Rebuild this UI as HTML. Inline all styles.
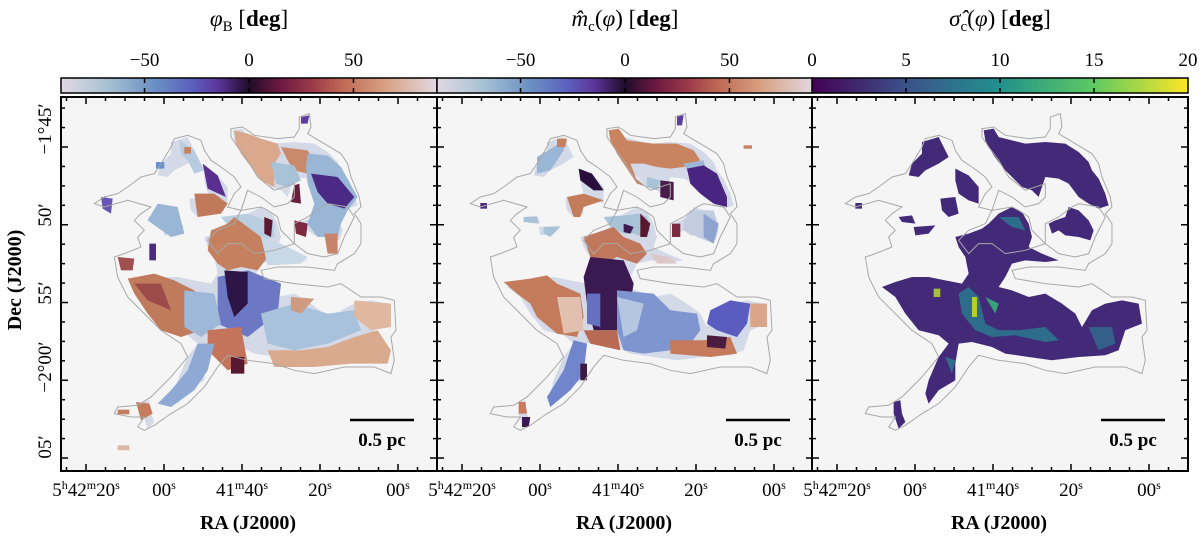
<!DOCTYPE html>
<html><head><meta charset="utf-8">
<style>
html,body{margin:0;padding:0;background:#fff;width:1200px;height:536px;overflow:hidden}
svg text{font-family:"Liberation Serif",serif;fill:#000}
</style></head>
<body>
<svg id="fig" width="1200" height="536" viewBox="0 0 1200 536" xmlns="http://www.w3.org/2000/svg">
<defs>
<linearGradient id="twi" x1="0" x2="1" y1="0" y2="0">
<stop offset="0" stop-color="#e2d9e2"/><stop offset="0.12" stop-color="#a9c2d4"/><stop offset="0.25" stop-color="#6a8fc4"/><stop offset="0.35" stop-color="#5b5fbe"/><stop offset="0.42" stop-color="#5b3497"/><stop offset="0.5" stop-color="#1f0c29"/><stop offset="0.58" stop-color="#6b1840"/><stop offset="0.67" stop-color="#9d3a4a"/><stop offset="0.75" stop-color="#c06a55"/><stop offset="0.86" stop-color="#d7a080"/><stop offset="1" stop-color="#e2d9e2"/>
</linearGradient>
<linearGradient id="vir" x1="0" x2="1" y1="0" y2="0">
<stop offset="0" stop-color="#440154"/><stop offset="0.25" stop-color="#3b528b"/><stop offset="0.5" stop-color="#21918c"/><stop offset="0.75" stop-color="#5ec962"/><stop offset="1" stop-color="#fde725"/>
</linearGradient>
</defs>
</svg>
<script>
// ---- data arrays ----
const cbarTicks12 = [-50, 0, 50];
const cbarRange12 = [-90, 90];
const cbarTicks3 = [0, 5, 10, 15, 20];
const cbarRange3 = [0, 20];
const raMajor = [0, 1, 2, 3, 4];
const raLabels = [["5","h","42","m","20","s"],["00","s"],["41","m","40","s"],["20","s"],["00","s"]];
const decMajor = [0, 1, 2, 3, 4];
const decLabels = ["\u22121\u00b045\u2032","50\u2032","55\u2032","\u22122\u00b000\u2032","05\u2032"];
const titles = ["\u03c6", "m\u0302", "\u03c3\u0302"];

const NS = "http://www.w3.org/2000/svg";
const svg = document.getElementById("fig");
function el(tag, attrs, parent){const e=document.createElementNS(NS,tag);for(const k in attrs)e.setAttribute(k,attrs[k]);(parent||svg).appendChild(e);return e;}

const PX = [61, 437, 812], PW = 376, TOP = 97, BOT = 471;
const raX = i => 25 + i*78;

const outline = [[510,95],[545,90],[580,115],[650,125],[700,120],[715,95],[715,60],[745,50],[750,90],[740,110],[790,140],[840,170],[860,200],[870,240],[895,300],[900,330],[880,350],[900,380],[900,440],[880,470],[830,500],[820,520],[740,510],[650,510],[600,520],[610,545],[700,560],[800,570],[840,560],[900,600],[960,600],[1000,610],[1005,700],[990,720],[1000,790],[990,830],[940,810],[850,810],[760,830],[700,820],[640,800],[560,790],[500,775],[470,810],[430,870],[380,920],[330,950],[280,985],[250,1000],[230,990],[250,960],[210,960],[160,950],[170,930],[230,925],[270,900],[330,840],[380,780],[360,740],[300,700],[250,650],[200,600],[170,540],[160,480],[190,470],[240,450],[230,420],[250,400],[220,370],[240,350],[270,330],[200,310],[130,330],[100,320],[130,300],[170,290],[200,270],[240,240],[280,230],[300,200],[330,150],[340,125],[380,115],[420,130],[430,160],[450,190],[480,210],[520,240],[540,270],[520,290],[500,330],[540,340],[600,330],[620,340],[650,360],[660,400],[680,420],[700,440],[640,460],[580,470],[540,440],[500,440],[470,470],[440,430],[470,400],[520,380],[540,340],[560,280],[600,300],[640,330],[680,320],[700,300],[700,260],[640,280],[590,240],[560,190],[530,150],[510,120]];
const outline2 = [[700,380],[740,360],[780,330],[800,320],[860,330],[880,360],[850,420],[830,470],[790,480],[740,470],[700,440]];

const mask3 = [
 [[515,100],[545,95],[560,120],[600,130],[640,140],[700,135],[760,140],[800,165],[830,195],[840,220],[860,245],[880,290],[890,325],[860,335],[830,320],[800,300],[770,260],[740,245],[700,240],[680,300],[660,280],[630,270],[600,240],[575,215],[545,175],[520,130]],
 [[770,330],[800,340],[830,370],[845,400],[835,430],[800,420],[760,415],[740,400],[720,410],[710,380],[730,370],[760,360]],
 [[430,420],[470,410],[510,395],[530,380],[560,350],[600,330],[630,345],[650,380],[660,420],[650,450],[690,470],[740,490],[700,495],[640,490],[600,500],[580,540],[560,570],[600,580],[650,600],[700,590],[750,620],[790,650],[810,690],[840,640],[880,620],[930,610],[980,620],[990,680],[940,700],[920,760],[880,775],[800,780],[720,790],[650,780],[580,770],[540,750],[480,735],[440,740],[430,800],[430,850],[380,880],[350,920],[340,890],[350,850],[380,780],[410,740],[380,715],[320,700],[280,650],[250,600],[210,570],[250,555],[300,540],[350,540],[400,550],[450,560],[470,530],[460,480],[440,450]],
 [[330,135],[380,120],[395,150],[410,180],[380,200],[340,220],[320,240],[290,235],[300,200],[330,170]],
 [[430,215],[470,235],[500,270],[500,320],[470,310],[440,290],[430,250]],
 [[385,305],[430,300],[440,350],[410,360],[390,340]],
 [[305,390],[370,385],[350,410],[310,415]],
 [[260,360],[300,355],[310,380],[270,375]],
 [[245,915],[265,910],[270,950],[280,975],[260,995],[245,950]],
 [[130,318],[150,318],[150,335],[130,335]]
];
const streaks3 = [
 [[[440,590],[470,570],[500,600],[520,680],[560,700],[620,700],[700,690],[740,730],[700,735],[610,715],[540,720],[490,700],[450,650]],"#2a788e"],
 [[[480,600],[495,600],[495,660],[480,660]],"#cde11d"],
 [[[365,575],[385,575],[385,600],[365,600]],"#b5de2b"],
 [[[560,360],[620,360],[640,400],[600,390]],"#2a788e"],
 [[[830,690],[900,690],[910,740],[860,760]],"#31688e"],
 [[[520,600],[560,620],[550,650]],"#35b779"],
 [[[400,780],[430,790],[420,830]],"#2a788e"]
];

const patches1 = [
 [[[520,100],[560,110],[600,125],[650,140],[660,170],[640,200],[640,270],[600,250],[570,210],[540,170],[525,140]],"#d9a88d"],
 [[[660,150],[740,160],[760,190],[740,230],[700,220],[680,190]],"#c98a6b"],
 [[[630,195],[700,205],[720,250],[680,270],[645,260]],"#a8c3d8"],
 [[[740,170],[800,175],[840,210],[890,300],[860,340],[840,380],[830,420],[770,420],[740,380],[760,320],[740,260],[735,210]],"#9ab6d6"],
 [[[750,230],[830,240],[880,300],[850,335],[800,320],[770,285]],"#4b2a86"],
 [[[700,265],[715,260],[720,320],[690,315]],"#6b1e3e"],
 [[[700,370],[740,380],[735,420],[705,410]],"#7c2a40"],
 [[[790,410],[830,410],[830,470],[800,470]],"#c8846a"],
 [[[480,360],[560,350],[640,380],[640,420],[600,430],[520,410]],"#b8cde0"],
 [[[610,360],[635,370],[630,420],[610,410]],"#5a1830"],
 [[[450,400],[500,380],[520,360],[560,390],[600,420],[620,480],[590,520],[540,510],[500,520],[470,500],[440,460]],"#c5805f"],
 [[[600,420],[660,440],[740,480],[720,500],[620,505]],"#c9d8e6"],
 [[[470,540],[560,520],[660,560],[650,650],[560,720],[470,680]],"#6d78c4"],
 [[[490,520],[560,525],[560,620],[520,660],[500,600]],"#2e1548"],
 [[[200,545],[280,530],[340,550],[400,580],[430,620],[420,700],[360,720],[300,700],[260,650],[220,590]],"#c07a5c"],
 [[[220,560],[300,560],[330,640],[260,610]],"#9c4a4a"],
 [[[370,580],[460,590],[480,680],[420,720],[370,690]],"#9db8d8"],
 [[[440,700],[540,690],[560,800],[500,820],[440,760]],"#c4745a"],
 [[[410,740],[460,740],[440,820],[400,880],[330,930],[290,920],[330,880],[380,820]],"#8ea9d4"],
 [[[600,650],[700,620],[800,650],[880,640],[900,700],[800,740],[700,760],[620,740]],"#a8c1dc"],
 [[[620,760],[720,760],[800,750],[880,720],[950,700],[990,760],[980,800],[870,800],[760,810],[640,810]],"#d9aa8e"],
 [[[880,610],[990,620],[990,690],[930,700],[880,660]],"#e0b8a0"],
 [[[690,600],[760,605],[720,650],[690,640]],"#d09a80"],
 [[[400,290],[460,290],[500,320],[480,350],[410,360]],"#c0795b"],
 [[[425,200],[470,235],[495,300],[440,275]],"#5a2f8f"],
 [[[290,320],[350,330],[370,410],[330,420],[260,370]],"#9ab6d6"],
 [[[265,440],[285,440],[285,490],[265,490]],"#4b2a7f"],
 [[[170,480],[220,485],[215,520],[180,520]],"#a05050"],
 [[[120,300],[155,305],[150,350],[125,335]],"#6655b5"],
 [[[355,130],[400,160],[430,220],[400,230],[380,190],[360,170]],"#b7cce0"],
 [[[370,150],[390,150],[390,170],[370,170]],"#c8805f"],
 [[[285,195],[310,195],[310,215],[285,215]],"#6a8fd0"],
 [[[225,915],[265,920],[275,950],[240,970]],"#c57c5b"],
 [[[170,938],[205,938],[205,952],[170,952]],"#c57c5b"],
 [[[170,1045],[205,1045],[205,1060],[170,1060]],"#dcb8a4"],
 [[[510,780],[550,780],[550,830],[510,830]],"#5a1830"],
 [[[720,60],[745,55],[740,80],[720,80]],"#5a3fa0"]
];
const patches2 = [
 [[[515,100],[545,95],[570,130],[650,140],[720,140],[770,160],[790,190],[740,210],[700,215],[660,210],[620,200],[580,200],[600,250],[630,270],[600,260],[570,215],[540,170],[520,130]],"#c9835f"],
 [[[740,200],[800,190],[810,230],[760,240]],"#9eb6d6"],
 [[[750,215],[800,205],[840,230],[870,300],[870,330],[830,320],[790,290],[760,260]],"#4a2481"],
 [[[670,250],[710,255],[710,310],[670,300]],"#4a1c4a"],
 [[[630,240],[670,250],[660,280],[630,270]],"#a8c3d8"],
 [[[760,340],[830,340],[845,390],[830,440],[780,420],[740,400],[740,370]],"#c3cde0"],
 [[[800,350],[845,380],[830,440],[800,420]],"#8ea3d0"],
 [[[705,380],[730,380],[730,420],[705,420]],"#7c2a40"],
 [[[500,360],[560,355],[610,350],[630,360],[640,400],[620,420],[590,410],[560,410],[520,390]],"#a8c3d8"],
 [[[560,380],[590,390],[580,410],[560,405]],"#3a1a50"],
 [[[610,350],[640,380],[630,420],[610,420]],"#5a1830"],
 [[[440,420],[500,400],[530,390],[560,420],[610,440],[630,470],[600,500],[540,480],[500,500],[460,480]],"#c0775b"],
 [[[640,470],[700,480],[720,500],[660,500]],"#dcc8c8"],
 [[[460,480],[560,490],[590,560],[580,620],[540,700],[470,700],[450,620],[440,540]],"#3a1a50"],
 [[[540,580],[650,590],[700,640],[780,650],[790,700],[760,740],[700,760],[620,770],[560,760],[540,700]],"#7f95cf"],
 [[[540,600],[620,620],[600,700],[560,720]],"#b5c7e0"],
 [[[820,640],[880,610],[940,620],[930,680],[900,720],[840,700],[810,680]],"#5a5cbf"],
 [[[940,620],[990,620],[990,690],[940,690]],"#d9a68a"],
 [[[700,730],[800,730],[880,720],[900,770],[820,780],[700,770]],"#c57a5b"],
 [[[810,715],[870,720],[865,755],[810,750]],"#4a1d40"],
 [[[200,555],[280,545],[330,535],[360,560],[430,590],[440,660],[420,720],[360,710],[300,660],[280,620],[240,590]],"#c47b5c"],
 [[[360,600],[430,600],[440,700],[380,710]],"#e1c0b0"],
 [[[450,590],[490,590],[490,690],[450,680]],"#6470c0"],
 [[[440,700],[540,700],[550,760],[460,740]],"#b96a55"],
 [[[410,730],[450,740],[440,830],[400,880],[340,930],[330,900],[380,820]],"#7085cc"],
 [[[430,800],[450,800],[450,850],[430,850]],"#3a1a40"],
 [[[300,180],[350,150],[390,125],[380,160],[340,220],[300,230]],"#9ab6d6"],
 [[[360,125],[390,125],[385,150],[360,150]],"#c8805f"],
 [[[425,215],[465,230],[500,280],[470,280],[430,250]],"#2a0f3c"],
 [[[390,300],[440,290],[500,310],[440,330],[430,360],[410,360]],"#c57c5b"],
 [[[260,360],[300,360],[305,380],[260,375]],"#a8c3d8"],
 [[[320,390],[370,390],[340,420],[320,410]],"#a8c3d8"],
 [[[245,915],[265,915],[270,950],[245,950]],"#c87a5a"],
 [[[255,960],[280,960],[275,990],[255,990]],"#3a1a50"],
 [[[130,318],[150,318],[150,335],[130,335]],"#4b2a7f"],
 [[[720,55],[740,55],[735,85],[720,85]],"#5a3fa0"],
 [[[920,145],[945,145],[945,155],[920,155]],"#c8805f"]
];

const pts = a => a.map(p=>p.join(",")).join(" ");

PX.forEach((x0, pi) => {
  const w = 376;
  const bg = el("rect",{x:x0,y:TOP,width:w,height:BOT-TOP,fill:"#f5f5f5"});
  
  
  const g = el("g",{transform:`translate(${x0},${TOP}) scale(0.3333)`});
  
  
  if (pi===2){
    mask3.forEach(m=>{ el("polygon",{points:pts(m),fill:"#432a78"},g); });
    streaks3.forEach(s=>{ el("polygon",{points:pts(s[0]),fill:s[1],opacity:0.85},g); });
  } else {
    mask3.forEach(m=>{ el("polygon",{points:pts(m),fill:"#d3d9e6"},g); });
    (pi===0?patches1:patches2).forEach(s=>{ el("polygon",{points:pts(s[0]),fill:s[1]},g); });
  }
  const c1 = el("polygon",{points:pts(outline),fill:"none",stroke:"#a8a8a8","stroke-width":3},g);
  
  
  el("polygon",{points:pts(outline2),fill:"none",stroke:"#a8a8a8","stroke-width":3},g);
  for (let k=-2;k<20;k++){
    const tx = x0 + 25 + k*19.5;
    if (tx<=x0+1||tx>=x0+w-1) continue;
    const major = ((k%4)+4)%4===0;
    const L = major?7:4;
    el("line",{x1:tx,x2:tx,y1:BOT,y2:BOT-L,stroke:"#000","stroke-width":1.5});
    el("line",{x1:tx,x2:tx,y1:TOP,y2:TOP+L,stroke:"#000","stroke-width":1.5});
  }
  for (let k=-2;k<20;k++){
    const ty = 147 + k*19.44;
    if (ty<=TOP+1||ty>=BOT-1) continue;
    const major = ((k%4)+4)%4===0;
    const L = major?7:4;
    el("line",{x1:x0,x2:x0+L,y1:ty,y2:ty,stroke:"#000","stroke-width":1.5});
    el("line",{x1:x0+w,x2:x0+w-L,y1:ty,y2:ty,stroke:"#000","stroke-width":1.5});
  }
  const fr = el("rect",{x:x0,y:TOP,width:w,height:BOT-TOP,fill:"none",stroke:"#000","stroke-width":2});
  
  
  const sb = el("line",{x1:x0+289,x2:x0+353,y1:TOP+323,y2:TOP+323,stroke:"#000","stroke-width":2.5});
  
  
  const st = el("text",{x:x0+321,y:TOP+349,"text-anchor":"middle","font-size":"19","font-weight":"bold"});
  st.textContent = "0.5 pc";
  
  
  raMajor.forEach((i)=>{
    const t = el("text",{x:x0+raX(i),y:496,"text-anchor":"middle","font-size":"19"});
    const parts = raLabels[i];
    for (let j=0;j<parts.length;j+=2){
      const a = el("tspan",j>0?{dy:7}:{},t); a.textContent = parts[j];
      const b = el("tspan",{"font-size":"12",dy:-7},t); b.textContent = parts[j+1];
    }
    
    
  });
  const rl = el("text",{x:x0+187,y:529,"text-anchor":"middle","font-size":"20","font-weight":"bold"});
  rl.textContent = "RA (J2000)";
  
  
  const cb = el("rect",{x:x0,y:78,width:w,height:15,fill:pi===2?"url(#vir)":"url(#twi)",stroke:"#000","stroke-width":1.5});
  
  
  const ticks = pi===2?cbarTicks3:cbarTicks12, rng = pi===2?cbarRange3:cbarRange12;
  const cx = v => x0 + (v-rng[0])/(rng[1]-rng[0])*w;
  ticks.forEach(v=>{
    const xx = cx(v);
    if (xx>x0+1 && xx<x0+w-1){
      el("line",{x1:xx,x2:xx,y1:93,y2:88,stroke:"#000","stroke-width":1.5});
      el("line",{x1:xx,x2:xx,y1:78,y2:83,stroke:"#000","stroke-width":1.5});
    }
    const t = el("text",{x:xx,y:66,"text-anchor":"middle","font-size":"19"});
    t.textContent = v<0 ? "\u2212"+Math.abs(v) : String(v);
    
    
  });
  const tt = el("text",{x:x0+188,y:26,"text-anchor":"middle","font-size":"23"});
  const s1 = el("tspan",{"font-style":"italic"},tt); s1.textContent = titles[pi];
  const s2 = el("tspan",{"font-size":"15",dy:5},tt); s2.textContent = pi===0?"B":"c";
  if (pi===0){ const s3=el("tspan",{dy:-5},tt); s3.textContent="  ["; }
  else { const s3=el("tspan",{dy:-5},tt); s3.textContent="("; const s4=el("tspan",{"font-style":"italic"},tt); s4.textContent="\u03c6"; const s5=el("tspan",{},tt); s5.textContent=")  ["; }
  const sb2 = el("tspan",{"font-weight":"bold"},tt); sb2.textContent="deg";
  const sb3 = el("tspan",{},tt); sb3.textContent="]";
  
  
});

const decPos = [129, 215, 293, 367, 447];
decMajor.forEach(i=>{
  const t = el("text",{x:0,y:0,"text-anchor":"middle","font-size":"19",transform:`translate(51,${decPos[i]}) rotate(-90)`});
  t.textContent = decLabels[i];
  
  
});
const yl = el("text",{x:0,y:0,"text-anchor":"middle","font-size":"20","font-weight":"bold",transform:"translate(21,280) rotate(-90)"});
yl.textContent = "Dec (J2000)";


</script>
</body></html>
